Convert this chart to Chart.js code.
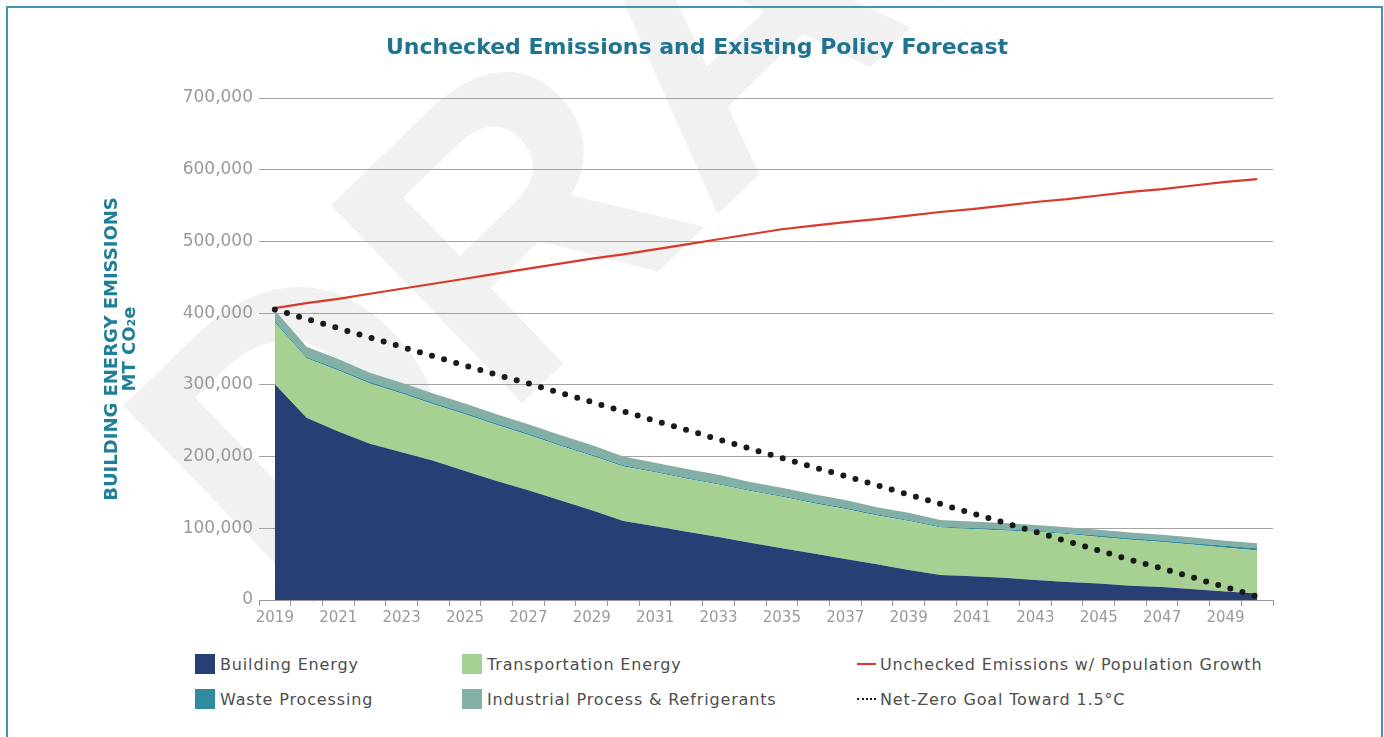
<!DOCTYPE html>
<html>
<head>
<meta charset="utf-8">
<script src="https://cdn.jsdelivr.net/npm/chart.js@4"></script>
<style>
    body { margin: 0; background: #fff; font-family: "DejaVu Sans", sans-serif; overflow: hidden; }
    #frame { position: absolute; left: 6px; top: 6px; width: 1373px; height: 800px; border: 2px solid #3f97ad; }
    #draft { position: absolute; left: 338px; top: 267px; font: bold 400px "Liberation Sans", sans-serif; color: #f1f1f1; transform-origin: 0 100%; transform: rotate(-44deg); white-space: nowrap; line-height: 1; }
    #wrap { position: absolute; left: 9px; top: 0; width: 1384px; height: 640px; }
    .legend { position: absolute; display: flex; align-items: center; font-size: 16px; letter-spacing: 0.85px; color: #4d4d4d; white-space: nowrap; }
    .legend .box { width: 20px; height: 20px; margin-right: 5px; }
    .legend .line { width: 19px; height: 0; margin-right: 4px; }
</style>
</head>
<body>
<div id="draft">DRAFT</div>
<div id="frame"></div>
<div id="wrap"><canvas id="chart"></canvas></div>
<div id="legend"></div>
<script>
const years = ["2019", "2020", "2021", "2022", "2023", "2024", "2025", "2026", "2027", "2028", "2029",
    "2030", "2031", "2032", "2033", "2034", "2035", "2036", "2037", "2038", "2039", "2040",
    "2041", "2042", "2043", "2044", "2045", "2046", "2047", "2048", "2049", "2050"];

// stacked areas, MT CO2e
const buildingEnergy = [301000, 254000, 235000, 218000, 206000, 194000, 180000, 166000, 153000, 139000, 125000,
    110000, 103000, 95000, 88000, 80000, 72000, 65000, 57000, 50000, 42000, 35000,
    33000, 31000, 28000, 25000, 23000, 20000, 18000, 15000, 12000, 9000];
const transportationEnergy = [86000, 83000, 85000, 84000, 82000, 79000, 79000, 78000, 77000, 76000, 76000,
    76000, 75000, 74000, 73000, 72000, 72000, 70000, 70000, 68000, 68000, 66000,
    66000, 66000, 67000, 67000, 65000, 64000, 63000, 62000, 61000, 60000];
const wasteProcessing = [2000, 2000, 2000, 2000, 2000, 2000, 2000, 2000, 2000, 2000, 2000,
    2000, 1500, 1500, 1500, 1500, 1500, 1500, 1500, 1500, 1500, 1500,
    1500, 1500, 1500, 1500, 2000, 2000, 2000, 2000, 2500, 3000];
const industrialRefrigerants = [15000, 14000, 14000, 13000, 13000, 13000, 13000, 13000, 13000, 13000, 13000,
    12000, 12000, 12000, 12000, 11000, 11000, 11000, 11000, 10000, 10000, 9000,
    9000, 9000, 8000, 8000, 8000, 8000, 8000, 8000, 7000, 7000];

// lines
const uncheckedEmissions = [407000, 414000, 420000, 427000, 434000, 441000, 448000, 455000, 462000, 469000, 476000,
    482000, 489000, 496000, 503000, 510000, 517000, 522000, 527000, 531000, 536000, 541000,
    545000, 550000, 555000, 559000, 564000, 569000, 573000, 578000, 583000, 587000];
const netZeroGoal = [405000, 392000, 379000, 366000, 353000, 340000, 327000, 314000, 302000, 289000, 276000,
    263000, 250000, 237000, 224000, 211000, 198000, 185000, 173000, 160000, 147000, 134000,
    121000, 108000, 95000, 82000, 69000, 56000, 44000, 31000, 18000, 5000];

const yTicks = [0, 100000, 200000, 300000, 400000, 500000, 600000, 700000];

const colors = {
    building: "#283f76",
    transport: "#a7d192",
    waste: "#2f8c9f",
    industrial: "#83afa6",
    unchecked: "#d8392b",
    netZero: "#1a1a1a"
};

const grey = "#999999";

function area(label, data, color, fill) {
    return {
        label: label,
        data: data,
        backgroundColor: color,
        borderColor: color,
        borderWidth: 0,
        fill: fill,
        pointRadius: 0,
        tension: 0,
        stack: "areas",
        order: 2
    };
}

const datasets = [
    area("Building Energy", buildingEnergy, colors.building, "origin"),
    area("Transportation Energy", transportationEnergy, colors.transport, "-1"),
    area("Waste Processing", wasteProcessing, colors.waste, "-1"),
    area("Industrial Process & Refrigerants", industrialRefrigerants, colors.industrial, "-1"),
    {
        label: "Unchecked Emissions w/ Population Growth",
        data: uncheckedEmissions,
        borderColor: colors.unchecked,
        borderWidth: 2.2,
        fill: false,
        pointRadius: 0,
        tension: 0,
        stack: "unchecked",
        order: 1
    },
    {
        label: "Net-Zero Goal Toward 1.5°C",
        data: netZeroGoal,
        borderColor: colors.netZero,
        borderWidth: 6,
        borderDash: [0, 12.6],
        borderCapStyle: "round",
        fill: false,
        pointRadius: 0,
        tension: 0,
        stack: "netzero",
        order: 0
    }
];

new Chart(document.getElementById("chart"), {
    type: "line",
    data: { labels: years, datasets: datasets },
    options: {
        responsive: true,
        maintainAspectRatio: false,
        animation: false,
        layout: { padding: { left: 112, right: 120, top: 0, bottom: 0 } },
        plugins: {
            legend: { display: false },
            tooltip: { enabled: false },
            title: {
                display: true,
                text: "Unchecked Emissions and Existing Policy Forecast",
                color: "#1f7591",
                font: { family: "DejaVu Sans", size: 22, weight: "bold" },
                padding: { top: 35, bottom: 36.6 }
            }
        },
        scales: {
            x: {
                offset: true,
                grid: { offset: true, drawOnChartArea: false, drawTicks: true, tickLength: 6, color: grey },
                border: { display: true, color: grey },
                ticks: {
                    autoSkip: false,
                    maxRotation: 0,
                    padding: 3,
                    color: grey,
                    font: { family: "DejaVu Sans", size: 15 },
                    callback: (v, i) => i % 2 === 0 ? years[i] : ""
                },
                afterFit: scale => { scale.height = 40; }
            },
            y: {
                stacked: true,
                min: 0,
                max: 700000,
                afterBuildTicks: scale => { scale.ticks = yTicks.map(v => ({ value: v })); },
                grid: { drawTicks: false, color: "#a3a3a3" },
                border: { display: false },
                ticks: {
                    padding: 6,
                    color: grey,
                    font: { family: "DejaVu Sans", size: 17 },
                    callback: v => v.toLocaleString("en-US")
                },
                title: {
                    display: true,
                    text: ["BUILDING ENERGY EMISSIONS", "MT CO₂e"],
                    color: "#1f7f98",
                    font: { family: "DejaVu Sans", size: 18, weight: "bold", lineHeight: 1.0 },
                    padding: { top: -18, bottom: 0 }
                },
                afterFit: scale => { scale.width = 138; }
            }
        }
    }
});

// legend laid out in three columns like the original
const legendItems = [
    { text: "Building Energy", kind: "box", color: colors.building, x: 195, y: 664 },
    { text: "Transportation Energy", kind: "box", color: colors.transport, x: 462, y: 664 },
    { text: "Unchecked Emissions w/ Population Growth", kind: "line", color: colors.unchecked, x: 857, y: 664 },
    { text: "Waste Processing", kind: "box", color: colors.waste, x: 195, y: 699 },
    { text: "Industrial Process & Refrigerants", kind: "box", color: colors.industrial, x: 462, y: 699 },
    { text: "Net-Zero Goal Toward 1.5°C", kind: "dots", color: colors.netZero, x: 857, y: 699 }
];

const legendDiv = document.getElementById("legend");
legendItems.forEach(item => {
    const el = document.createElement("div");
    el.className = "legend";
    el.style.left = item.x + "px";
    el.style.top = (item.y - 11) + "px";
    el.style.height = "22px";
    let mark;
    if (item.kind === "box") {
        mark = `<span class="box" style="background:${item.color}"></span>`;
    } else if (item.kind === "line") {
        mark = `<span class="line" style="border-top:2px solid ${item.color}"></span>`;
    } else {
        mark = `<span class="line" style="border-top:2px dotted ${item.color}"></span>`;
    }
    el.innerHTML = mark + `<span>${item.text}</span>`;
    legendDiv.appendChild(el);
});
</script>
</body>
</html>
